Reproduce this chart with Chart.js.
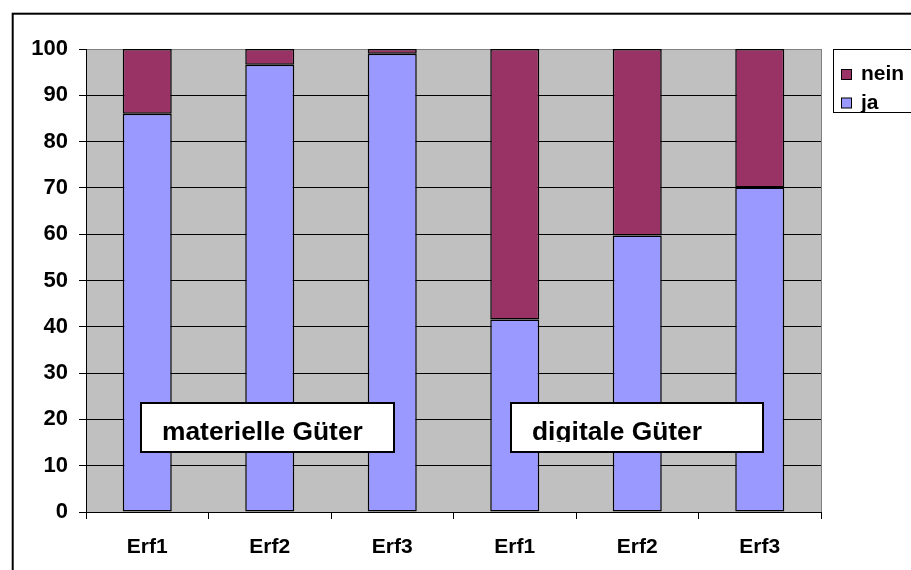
<!DOCTYPE html>
<html>
<head>
<meta charset="utf-8">
<script src="https://cdn.jsdelivr.net/npm/chart.js@4/dist/chart.umd.min.js"></script>
<style>
    html, body { margin: 0; padding: 0; background: #fff; }
    canvas { display: block; }
</style>
</head>
<body>
<canvas id="chart" width="911" height="570"></canvas>
<script>
const categories = ["Erf1", "Erf2", "Erf3", "Erf1", "Erf2", "Erf3"];
const jaValues = [86, 96.6, 99, 41.6, 59.7, 70.1];
const neinValues = [14, 3.4, 1, 58.4, 40.3, 29.9];
const yTicks = [0, 10, 20, 30, 40, 50, 60, 70, 80, 90, 100];
const groupLabels = ["materielle Güter", "digitale Güter"];

const FONT = '"Liberation Sans", Arial, sans-serif';

// frame, grey plot area
const backgroundPlugin = {
    id: "background",
    beforeDraw(chart) {
        const ctx = chart.ctx;
        const a = chart.chartArea;
        ctx.save();
        ctx.fillStyle = "#fff";
        ctx.fillRect(0, 0, chart.width, chart.height);
        ctx.strokeStyle = "#000";
        ctx.lineWidth = 2;
        ctx.strokeRect(12.7, 13.7, chart.width + 20, chart.height + 20);
        ctx.fillStyle = "#C0C0C0";
        ctx.fillRect(a.left, a.top, a.right - a.left, a.bottom - a.top);
        ctx.strokeStyle = "#808080";
        ctx.lineWidth = 1;
        ctx.strokeRect(a.left + 0.5, a.top + 0.5, a.right - a.left, a.bottom - a.top);
        ctx.restore();
    }
};

// the two white text boxes over the bars
const groupBoxPlugin = {
    id: "groupBoxes",
    afterDatasetsDraw(chart) {
        const ctx = chart.ctx;
        const boxes = [
            { x: 141, y: 403, w: 253, h: 49, clip: null },
            { x: 511, y: 403, w: 252, h: 49, clip: 442 },
        ];
        boxes.forEach((b, i) => {
            ctx.save();
            ctx.fillStyle = "#fff";
            ctx.fillRect(b.x, b.y, b.w, b.h);
            ctx.strokeStyle = "#000";
            ctx.lineWidth = 2;
            ctx.strokeRect(b.x, b.y, b.w, b.h);
            if (b.clip) {
                ctx.beginPath();
                ctx.rect(b.x + 1, b.y + 1, b.w - 2, b.clip - b.y - 1);
                ctx.clip();
            }
            ctx.fillStyle = "#000";
            ctx.font = "bold 25px " + FONT;
            ctx.textBaseline = "alphabetic";
            ctx.translate(b.x + 21, 439.5);
            ctx.scale(1.055, 1);
            ctx.fillText(groupLabels[i], 0, 0);
            ctx.restore();
        });
    }
};

// legend box at the top right, like Excel
const legendPlugin = {
    id: "boxLegend",
    afterDraw(chart) {
        const ctx = chart.ctx;
        ctx.save();
        ctx.strokeStyle = "#000";
        ctx.lineWidth = 1;
        ctx.fillStyle = "#fff";
        ctx.fillRect(833.5, 49.5, 100, 63);
        ctx.strokeRect(833.5, 49.5, 100, 63);
        const items = chart.data.datasets.slice().reverse();
        ctx.font = "bold 21px " + FONT;
        ctx.textBaseline = "middle";
        items.forEach((ds, i) => {
            const y = 69.5 + i * 28.5;
            ctx.fillStyle = ds.backgroundColor;
            ctx.fillRect(841.5, y, 10, 10);
            ctx.strokeRect(841.5, y, 10, 10);
            ctx.fillStyle = "#000";
            ctx.fillText(ds.label, 861, y + 5);
        });
        ctx.restore();
    }
};

new Chart(document.getElementById("chart"), {
    type: "bar",
    data: {
        labels: categories,
        datasets: [
            {
                label: "ja",
                data: jaValues,
                backgroundColor: "#9999FF",
                borderColor: "#000",
                borderWidth: 1.5,
                borderSkipped: false,
                barPercentage: 0.4,
                categoryPercentage: 1.0,
            },
            {
                label: "nein",
                data: neinValues,
                backgroundColor: "#993366",
                borderColor: "#000",
                borderWidth: 1.5,
                borderSkipped: false,
                barPercentage: 0.4,
                categoryPercentage: 1.0,
            }
        ]
    },
    options: {
        responsive: false,
        animation: false,
        devicePixelRatio: 1,
        layout: { padding: { top: 49, right: 90, left: 0, bottom: 0 } },
        plugins: {
            legend: { display: false },
            tooltip: { enabled: false },
        },
        scales: {
            x: {
                stacked: true,
                grid: {
                    offset: true,
                    drawOnChartArea: false,
                    color: "#000",
                    tickLength: 7,
                },
                border: { color: "#000", width: 1 },
                ticks: {
                    color: "#000",
                    padding: 16,
                    maxRotation: 0,
                    font: { family: FONT, size: 21, weight: "bold" },
                },
                afterFit: (scale) => { scale.height = 58; },
            },
            y: {
                stacked: true,
                min: 0,
                max: 100,
                afterBuildTicks: (scale) => { scale.ticks = yTicks.map(v => ({ value: v })); },
                grid: {
                    color: (c) => c.tick && c.tick.value === 100 ? "#808080" : "#000",
                    tickColor: "#000",
                    tickLength: 7,
                },
                border: { color: "#000", width: 1 },
                ticks: {
                    color: "#000",
                    padding: 11,
                    font: { family: FONT, size: 22, weight: "bold" },
                },
                afterFit: (scale) => { scale.width = 86; },
            }
        }
    },
    plugins: [backgroundPlugin, groupBoxPlugin, legendPlugin]
});
</script>
</body>
</html>
